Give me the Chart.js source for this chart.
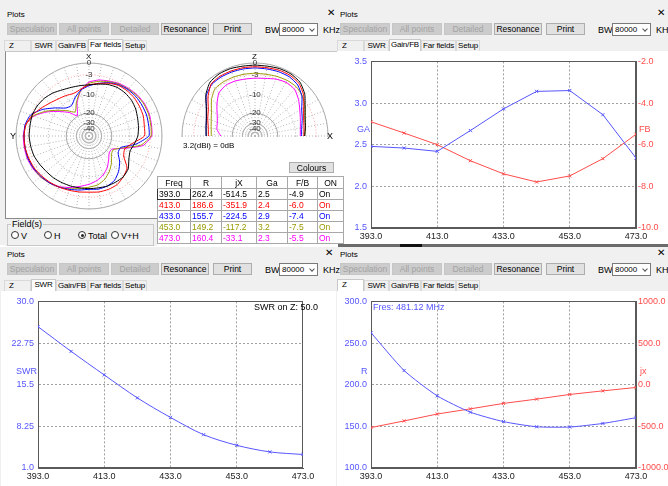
<!DOCTYPE html>
<html>
<head>
<meta charset="utf-8">
<title>Plots</title>
<script src="https://cdn.jsdelivr.net/npm/chart.js@4.4.1/dist/chart.umd.min.js"></script>
<style>
  html, body { margin: 0; padding: 0; }
  body { width: 668px; height: 486px; position: relative; overflow: hidden; background: #fff;
         font-family: "Liberation Sans", Arial, sans-serif; font-size: 9px; color: #000; }
  .panel { background: #f0f0f0; }
  .white { background: #fff; }
  .txt { white-space: nowrap; line-height: 10px; }
  .btn { box-sizing: border-box; border: 1px solid #adadad; background: #e1e1e1; text-align: center; line-height: 10px; white-space: nowrap; font-size: 8.5px; }
  .btn.off { background: #cccccc; border-color: #c6c6c6; color: #a3a3a3; }
  .sel { box-sizing: border-box; border: 1px solid #7a7a7a; background: #fff; padding-left: 2px; line-height: 11px; font-size: 8px; }
  .chev { width: 3px; height: 3px; border-right: 1px solid #555; border-bottom: 1px solid #555; transform: rotate(45deg); }
  .tab { box-sizing: border-box; border: 1px solid #d9d9d9; border-bottom: none; background: #f0f0f0; text-align: center; line-height: 10px; font-size: 8px; letter-spacing: -0.2px; white-space: nowrap; }
  .tab.on { background: #fff; border-color: #c8c8c8; }
  .radio { box-sizing: border-box; width: 8px; height: 8px; border: 1px solid #333; border-radius: 50%; background: #fff; }
  .radio.on::after { content: ""; position: absolute; left: 1.5px; top: 1.5px; width: 3px; height: 3px; border-radius: 50%; background: #222; }
  table.res { border-collapse: collapse; background: #fff; font-size: 8.5px; table-layout: fixed; }
  table.res td { border: 1px solid #a8a8a8; height: 10px; padding: 0 0 0 1px; line-height: 10px; white-space: nowrap; overflow: hidden; }
  table.res tr.head td { text-align: center; height: 11px; padding: 0; }
</style>
</head>
<body>
<script>
// sweep points (MHz)
const freqs = [393, 403, 413, 423, 433, 443, 453, 463, 473];
const freqTicks = [393, 413, 433, 453, 473];

// Gain/FB tab
const gainGA = [2.48, 2.46, 2.42, 2.67, 2.93, 3.14, 3.15, 2.86, 2.34];
const gainFB = [-4.9, -5.44, -6.0, -6.77, -7.4, -7.79, -7.5, -6.67, -5.5];
const gaTicks = [1.5, 2.0, 2.5, 3.0, 3.5];
const fbTicks = [-10, -8, -6, -4, -2];

// SWR tab
const swr = [25.6, 21.3, 17.2, 13.2, 9.8, 6.8, 4.95, 3.8, 3.35];
const swrTicks = [1.0, 8.25, 15.5, 22.75, 30.0];

// Z tab
const zR = [262.4, 217, 186.6, 167, 155.7, 149.5, 149.2, 153.5, 160.4];
const zX = [-514.5, -435, -351.9, -290, -224.5, -173, -117.2, -74, -33.1];
const rTicks = [100, 150, 200, 250, 300];
const jxTicks = [-1000, -500, 0, 500, 1000];

// result table (Far fields tab)
const tableFreq = [393.0, 413.0, 433.0, 453.0, 473.0];
const tableR = [262.4, 186.6, 155.7, 149.2, 160.4];
const tableJX = [-514.5, -351.9, -224.5, -117.2, -33.1];
const tableGa = [2.5, 2.4, 2.9, 3.2, 2.3];
const tableFB = [-4.9, -6.0, -7.4, -7.5, -5.5];
const seriesColors = ['#000000', '#ff0000', '#0000ff', '#999900', '#ff00ff'];

// far field: dB relative to 3.2 dBi, bearings 0..350 clockwise from X
const bearings = [0, 10, 20, 30, 40, 50, 60, 70, 80, 90, 100, 110, 120, 130, 140, 150, 160, 170,
                  180, 190, 200, 210, 220, 230, 240, 250, 260, 270, 280, 290, 300, 310, 320, 330, 340, 350];
const az393 = [-6.1, -5.6, -4.9, -4.5, -4.5, -4.7, -5.2, -5.9, -6.4, -6.9, -7.9, -8.8, -7.9, -6.1, -5.4, -5.4, -5.4, -5.6,
               -5.6, -5.6, -5.4, -5.2, -4.9, -4.7, -4.3, -3.8, -3.6, -3.4, -3.4, -3.2, -3.4, -3.8, -4.5, -5.4, -5.9, -6.1];
const az413 = [-6.1, -5.4, -4.5, -3.8, -3.6, -3.6, -3.8, -4.0, -4.5, -4.7, -8.8, -11.2, -10.3, -6.6, -5.4, -4.5, -4.3, -4.3,
               -4.5, -4.3, -4.0, -3.6, -3.2, -2.8, -2.4, -2.2, -2.0, -2.0, -2.2, -3.2, -4.7, -6.1, -7.1, -7.7, -8.2, -7.4];
const az433 = [-6.4, -5.4, -4.3, -3.6, -3.2, -3.0, -3.0, -3.0, -3.2, -3.4, -7.4, -13.3, -13.3, -10.3, -7.9, -6.1, -5.4, -5.2,
               -5.4, -4.9, -4.3, -3.6, -3.0, -2.6, -2.2, -2.0, -2.0, -2.0, -2.0, -2.8, -5.4, -8.8, -11.9, -12.6, -10.0, -7.7];
const az453 = [-5.6, -4.7, -4.0, -3.4, -3.0, -2.6, -2.4, -2.4, -2.6, -2.8, -5.6, -12.6, -16.6, -15.7, -12.6, -10.0, -7.9, -6.6,
               -6.1, -5.4, -4.5, -3.6, -3.0, -2.4, -2.2, -2.0, -2.0, -2.0, -2.2, -3.6, -6.6, -10.3, -13.7, -16.6, -11.9, -7.7];
const az473 = [-5.2, -4.3, -3.8, -3.2, -2.8, -2.4, -2.2, -2.2, -2.4, -2.6, -4.9, -11.9, -17.5, -17.5, -14.9, -11.9, -9.7, -8.2,
               -7.1, -6.1, -4.9, -3.8, -3.0, -2.4, -2.0, -1.8, -1.8, -1.8, -2.2, -3.8, -7.1, -11.2, -14.9, -19.5, -12.6, -7.7];

// elevation cut, bearings -90..90 from Z
const elBearings = [-90, -80, -70, -60, -50, -40, -30, -20, -10, 0, 10, 20, 30, 40, 50, 60, 70, 80, 90];
const el393 = [-6.9, -6.6, -5.9, -4.5, -2.2, -0.7, -0.3, -0.3, -0.5, -0.5, -0.5, -0.3, -0.3, -0.7, -2.0, -4.0, -5.4, -6.1, -6.6];
const el413 = [-7.7, -7.4, -6.4, -5.2, -3.0, -1.2, -0.9, -0.9, -0.9, -0.9, -0.9, -0.7, -0.7, -1.1, -2.4, -4.5, -5.9, -6.6, -6.9];
const el433 = [-6.9, -6.6, -5.9, -4.5, -2.4, -1.4, -1.2, -1.2, -1.2, -1.2, -1.2, -1.1, -1.1, -1.6, -3.0, -5.2, -6.4, -7.4, -7.7];
const el453 = [-8.8, -8.5, -7.7, -6.4, -4.3, -2.8, -2.6, -2.6, -2.6, -2.6, -2.6, -2.4, -2.2, -2.2, -2.8, -4.0, -5.4, -6.1, -6.6];
const el473 = [-13.0, -10.9, -10.3, -8.8, -6.6, -4.5, -3.8, -3.8, -4.0, -4.0, -3.8, -3.2, -2.8, -3.0, -4.3, -5.9, -7.1, -7.9, -8.2];

const ringDb = [-50, -40, -30, -20, -10, -3, 0];
const ringLabels = ['', '-40', '-30', '-20', '-10', '-3', '0'];

const BLUE = '#5656ff';
const RED = '#ff4c4c';

// ARRL style log scale: every 2 dB shrinks the radius by 0.89
const toRadius = db => (db === null ? null : Math.pow(0.89, -db / 2));

function el(tag, cls, x, y, w, h, text) {
    const e = document.createElement(tag);
    if (cls) e.className = cls;
    e.style.position = 'absolute';
    e.style.left = x + 'px';
    e.style.top = y + 'px';
    if (w !== undefined && w !== null) e.style.width = w + 'px';
    if (h !== undefined && h !== null) e.style.height = h + 'px';
    if (text !== undefined) e.textContent = text;
    document.body.appendChild(e);
    return e;
}

const plots = {
    init() {
        Chart.defaults.font.family = '"Liberation Sans", Arial, sans-serif';
        Chart.defaults.font.size = 9;

        // window backgrounds
        el('div', 'panel', 0, 0, 338, 245);
        el('div', 'panel', 336, 0, 332, 245);
        el('div', 'panel', 0, 247, 336, 239);
        el('div', 'panel', 336, 247, 332, 239);

        this.buildPanel(0, 0, 338, 7, 'Far fields');
        this.buildPanel(336, 0, 332, 4, 'Gain/FB');
        this.buildPanel(0, 240, 336, 7, 'SWR');
        this.buildPanel(336, 240, 332, 4, 'Z');

        // content areas
        const ff = el('div', 'white', 5, 51, 332, 194);
        ff.style.borderLeft = '1px solid #8a8a8a';
        ff.style.borderRight = '1px solid #6a6a6a';
        ff.style.borderTop = '1px solid #c8c8c8';
        el('div', 'white', 337, 51, 331, 194);
        el('div', 'white', 1, 291, 335, 195);
        el('div', 'white', 337, 291, 331, 195);

        const strip = el('div', '', 338, 244, 330, 3);
        strip.style.background = '#6b6b6b';
        const strip2 = el('div', '', 400, 244, 22, 3);
        strip2.style.background = '#111';

        this.drawFarFields();
        this.drawGain();
        this.drawSwr();
        this.drawZ();
    },

    buildPanel(x, y, w, s, activeTab) {
        el('div', 'txt', x + s, y + 10, null, null, 'Plots').style.fontSize = '8px';
        el('div', 'txt', x + w - 11, y + 8, null, null, '\u2715').style.fontSize = '10px';

        const buttons = [['Speculation', 0, 50, false], ['All points', 52, 50, false], ['Detailed', 104, 48, false],
                         ['Resonance', 154, 48, true], ['Print', 206, 39, true]];
        buttons.forEach(([t, dx, bw, on]) => {
            el('div', on ? 'btn' : 'btn off', x + s + dx, y + 23, bw, 12, t);
        });
        el('div', 'txt', x + s + 258, y + 25, null, null, 'BW');
        el('div', 'sel', x + s + 272, y + 23, 39, 13, '80000');
        el('div', 'chev', x + s + 303, y + 27);
        el('div', 'txt', x + s + 316, y + 25, null, null, 'KHz');

        const tabs = [['Z', -3, 27], ['SWR', 24, 25], ['Gain/FB', 49, 32], ['Far fields', 81, 35], ['Setup', 116, 24]];
        tabs.forEach(([t, dx, tw]) => {
            const on = t === activeTab;
            const tab = el('div', on ? 'tab on' : 'tab', x + s + dx, y + (on ? 39 : 40), tw, on ? 13 : 11, t);
            if (t === 'Z') { tab.style.textAlign = 'left'; tab.style.paddingLeft = '4px'; }
        });
    },

    radarChart(canvas, datasets) {
        const ticks = [0].concat(ringDb.map(toRadius));
        return new Chart(canvas, {
            type: 'radar',
            data: { labels: bearings.map(String), datasets: datasets },
            options: {
                responsive: false,
                animation: false,
                devicePixelRatio: 1,
                layout: { padding: 0 },
                plugins: { legend: { display: false }, tooltip: { enabled: false } },
                elements: { point: { radius: 0 }, line: { borderWidth: 1, tension: 0.18 } },
                scales: {
                    r: {
                        min: 0,
                        max: 1,
                        afterBuildTicks: (scale) => { scale.ticks = ticks.map(v => ({ value: v })); },
                        ticks: {
                            display: true,
                            font: { size: 8 },
                            color: '#333',
                            showLabelBackdrop: false,
                            backdropPadding: 0,
                            callback: (v, i) => (i === 0 ? '' : ringLabels[i - 1])
                        },
                        grid: {
                            circular: true,
                            lineWidth: 1,
                            color: c => (c.index === 6 ? '#ff9a9a' : '#a8a8a8')
                        },
                        border: { dash: c => (c.index === 6 || c.index === 5 ? [1, 2] : []) },
                        angleLines: { color: '#b4b4b4', lineWidth: 1, borderDash: [1, 2] },
                        pointLabels: { display: false }
                    }
                }
            }
        });
    },

    drawFarFields() {
        const azSeries = [az393, az413, az433, az453, az473];
        const elSeries = [el393, el413, el433, el453, el473];

        const c1 = el('canvas', '', 12, 59);
        c1.width = 154; c1.height = 154;
        this.radarChart(c1, azSeries.map((s, i) => ({
            data: s.map(toRadius), borderColor: seriesColors[i], fill: false
        })));

        // elevation: only the upper half of the circle is shown
        const clip = el('div', '', 178, 59, 154, 78);
        clip.style.overflow = 'hidden';
        const c2 = document.createElement('canvas');
        c2.width = 154; c2.height = 154;
        clip.appendChild(c2);
        this.radarChart(c2, elSeries.map((s, i) => {
            const full = bearings.map(() => null);
            elBearings.forEach((b, k) => { full[((b + 360) % 360) / 10] = toRadius(s[k]); });
            return { data: full, borderColor: seriesColors[i], fill: false, spanGaps: false };
        }));

        el('div', 'txt', 86, 52, null, null, 'X').style.fontSize = '8px';
        el('div', 'txt', 10, 131, null, null, 'Y');
        el('div', 'txt', 252, 52, null, null, 'Z').style.fontSize = '8px';
        el('div', 'txt', 327, 131, null, null, 'X');
        el('div', 'txt', 183, 141, null, null, '3.2(dBi) = 0dB').style.fontSize = '8px';
        el('div', 'btn', 289, 162, 45, 11, 'Colours');

        // Field(s) group
        const grp = el('div', 'panel', 5, 218, 152, 27);
        grp.style.borderTop = '1px solid #8a8a8a';
        const box = el('div', '', 7, 224, 147, 22);
        box.style.border = '1px solid #c8c8c8';
        box.style.boxSizing = 'border-box';
        const lab = el('div', 'txt panel', 11, 219, null, null, 'Field(s)');
        lab.style.padding = '0 1px';
        const radios = [['V', 11, false], ['H', 44, false], ['Total', 78, true], ['V+H', 111, false]];
        radios.forEach(([t, x, on]) => {
            el('div', on ? 'radio on' : 'radio', x, 231);
            el('div', 'txt', x + 10, 231, null, null, t);
        });

        // results table
        const table = el('table', 'res', 157, 176, 180);
        const colW = [32, 30, 34, 30, 29, 25];
        const head = document.createElement('tr');
        head.className = 'head';
        ['Freq', 'R', 'jX', 'Ga', 'F/B', 'ON'].forEach((h, i) => {
            const td = document.createElement('td');
            td.textContent = h;
            td.style.width = colW[i] + 'px';
            head.appendChild(td);
        });
        table.appendChild(head);
        tableFreq.forEach((f, r) => {
            const tr = document.createElement('tr');
            [f.toFixed(1), tableR[r].toFixed(1), tableJX[r].toFixed(1), tableGa[r].toFixed(1), tableFB[r].toFixed(1), 'On']
                .forEach((v, i) => {
                    const td = document.createElement('td');
                    td.textContent = v;
                    td.style.color = seriesColors[r];
                    if (r === 0 && i === 0) td.style.border = '1px solid #333';
                    tr.appendChild(td);
                });
            table.appendChild(tr);
        });
    },

    lineChart(canvas, cfg) {
        const frame = {
            id: 'frame',
            beforeDatasetsDraw(chart) {
                const { ctx, chartArea: a } = chart;
                ctx.save();
                ctx.strokeStyle = '#5a5a5a';
                ctx.lineWidth = 1;
                ctx.strokeRect(Math.round(a.left) + 0.5, Math.round(a.top) + 0.5, Math.round(a.width) - 1, Math.round(a.height) - 1);
                ctx.restore();
            }
        };
        const gridColor = c => (c.tick && (c.tick.value === c.scale.min || c.tick.value === c.scale.max)) ? 'rgba(0,0,0,0)' : '#a0a0a0';
        const yAxis = (ticks, fmt, pos, color, width, showGrid) => ({
            type: 'linear',
            position: pos,
            min: ticks[0],
            max: ticks[ticks.length - 1],
            afterBuildTicks: (scale) => { scale.ticks = ticks.map(v => ({ value: v })); },
            afterFit: (scale) => { scale.width = width; },
            ticks: { color: color, padding: pos === 'left' ? 4 : 2, callback: fmt, font: { size: 9 } },
            grid: { display: showGrid, color: gridColor, drawTicks: false },
            border: { color: '#5a5a5a', dash: [2, 2] }
        });

        const scales = {
            x: {
                type: 'linear',
                min: 393,
                max: 473,
                afterBuildTicks: (scale) => { scale.ticks = freqTicks.map(v => ({ value: v })); },
                afterFit: (scale) => { scale.height = cfg.xHeight; },
                ticks: { color: '#222', padding: 3, maxRotation: 0, autoSkip: false, callback: v => v.toFixed(1) },
                grid: { color: gridColor, drawTicks: false },
                border: { color: '#5a5a5a', dash: [2, 2] }
            },
            y: yAxis(cfg.left.ticks, cfg.left.fmt, 'left', cfg.left.color, cfg.left.width, true)
        };
        if (cfg.right) scales.y1 = yAxis(cfg.right.ticks, cfg.right.fmt, 'right', cfg.right.color, cfg.right.width, false);

        return new Chart(canvas, {
            type: 'line',
            data: {
                datasets: cfg.series.map(s => ({
                    data: freqs.map((f, i) => ({ x: f, y: s.values[i] })),
                    yAxisID: s.axis,
                    borderColor: s.color,
                    backgroundColor: s.color,
                    borderWidth: 1,
                    pointStyle: 'crossRot',
                    pointRadius: 2.2,
                    pointBorderWidth: 1,
                    pointBorderColor: s.color,
                    tension: s.tension || 0,
                    fill: false
                }))
            },
            options: {
                responsive: false,
                animation: false,
                devicePixelRatio: 1,
                layout: { padding: { top: 6, right: cfg.right ? 0 : cfg.padRight, left: 0, bottom: 0 } },
                plugins: { legend: { display: false }, tooltip: { enabled: false } },
                scales: scales
            },
            plugins: [frame]
        });
    },

    drawGain() {
        const c = el('canvas', '', 336, 52);
        c.width = 332; c.height = 193;
        this.lineChart(c, {
            xHeight: 17,
            left: { ticks: gaTicks, fmt: v => v.toFixed(1), color: BLUE, width: 35 },
            right: { ticks: fbTicks, fmt: v => v.toFixed(1), color: RED, width: 32 },
            series: [
                { values: gainGA, axis: 'y', color: BLUE },
                { values: gainFB, axis: 'y1', color: RED }
            ]
        });
        el('div', 'txt', 357, 124, null, null, 'GA').style.color = BLUE;
        el('div', 'txt', 639, 124, null, null, 'FB').style.color = RED;
    },

    drawSwr() {
        const c = el('canvas', '', 0, 292);
        c.width = 336; c.height = 194;
        this.lineChart(c, {
            xHeight: 18,
            padRight: 33,
            left: { ticks: swrTicks, fmt: v => (Number.isInteger(v * 10) ? v.toFixed(1) : String(v)), color: BLUE, width: 38 },
            series: [{ values: swr, axis: 'y', color: BLUE, tension: 0.3 }]
        });
        el('div', 'txt', 16, 366, null, null, 'SWR').style.color = BLUE;
        el('div', 'txt', 254, 302, null, null, 'SWR on Z: 50.0');
    },

    drawZ() {
        const c = el('canvas', '', 336, 292);
        c.width = 332; c.height = 194;
        this.lineChart(c, {
            xHeight: 18,
            left: { ticks: rTicks, fmt: v => v.toFixed(1), color: BLUE, width: 35 },
            right: { ticks: jxTicks, fmt: v => v.toFixed(1), color: RED, width: 32 },
            series: [
                { values: zR, axis: 'y', color: BLUE, tension: 0.2 },
                { values: zX, axis: 'y1', color: RED }
            ]
        });
        el('div', 'txt', 361, 366, null, null, 'R').style.color = BLUE;
        el('div', 'txt', 640, 366, null, null, 'jx').style.color = RED;
        el('div', 'txt', 373, 302, null, null, 'Fres: 481.12 MHz').style.color = BLUE;
    }
};

plots.init();
</script>
</body>
</html>
